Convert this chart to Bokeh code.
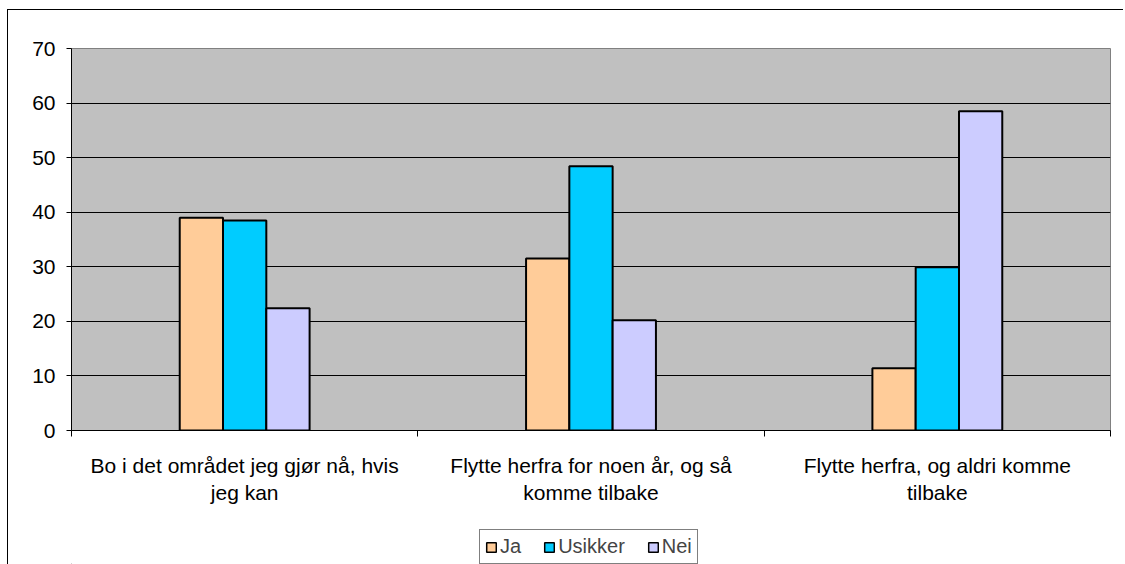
from bokeh.plotting import figure
from bokeh.models import (ColumnDataSource, FixedTicker, Range1d, Legend, LegendItem)
from bokeh.layouts import column
from bokeh.transform import dodge
from bokeh.embed import file_html
from bokeh.resources import INLINE

# ---- data ----
categories = ["Bo i det området jeg gjør nå, hvis\njeg kan",
              "Flytte herfra for noen år, og så\nkomme tilbake",
              "Flytte herfra, og aldri komme\ntilbake"]
ja = [39.0, 31.5, 11.4]
usikker = [38.5, 48.4, 29.9]
nei = [22.4, 20.2, 58.5]
series_names = ["Ja", "Usikker", "Nei"]
series_colors = ["#FFCC99", "#00CCFF", "#CCCCFF"]
y_ticks = [0, 10, 20, 30, 40, 50, 60, 70]

centers = [i + 0.5 for i in range(len(categories))]
src = ColumnDataSource(dict(x=centers, ja=ja, usikker=usikker, nei=nei))

FONT = "Liberation Sans"

p = figure(frame_width=1039, frame_height=382,
           min_border_left=63, min_border_right=13, min_border_top=38, min_border_bottom=80,
           x_range=Range1d(0, len(categories)), y_range=Range1d(0, 70),
           output_backend="svg", toolbar_location=None, tools="")

p.background_fill_color = "#C0C0C0"
p.border_fill_color = "white"
p.outline_line_color = "#808080"
p.outline_line_width = 1

p.xgrid.grid_line_color = None
p.ygrid.ticker = FixedTicker(ticks=y_ticks[1:-1])
p.ygrid.grid_line_color = "black"
p.ygrid.grid_line_width = 1

# y axis
p.yaxis.ticker = FixedTicker(ticks=y_ticks)
p.yaxis.axis_line_color = "black"
p.yaxis.major_tick_line_color = "black"
p.yaxis.major_tick_out = 5
p.yaxis.major_tick_in = 0
p.yaxis.minor_tick_line_color = None
p.yaxis.major_label_text_font = FONT
p.yaxis.major_label_text_font_size = "21px"
p.yaxis.major_label_text_color = "black"
p.yaxis.major_label_standoff = 11

# x axis
p.xaxis.ticker = FixedTicker(ticks=centers, minor_ticks=[0, 1, 2, 3])
p.xaxis.major_label_overrides = {c: lab for c, lab in zip(centers, categories)}
p.xaxis.axis_line_color = "black"
p.xaxis.major_tick_line_color = None
p.xaxis.major_tick_out = 0
p.xaxis.major_tick_in = 0
p.xaxis.minor_tick_line_color = "black"
p.xaxis.minor_tick_out = 6
p.xaxis.minor_tick_in = 0
p.xaxis.major_label_text_font = FONT
p.xaxis.major_label_text_font_size = "21px"
p.xaxis.major_label_text_color = "black"
p.xaxis.major_label_standoff = 17

bw = 0.125
for field, off, color in zip(["ja", "usikker", "nei"], [-bw, 0, bw], series_colors):
    p.vbar(x=dodge("x", off, range=p.x_range), top=field, width=bw, bottom=0,
           source=src, fill_color=color, line_color="black", line_width=2)

# ---- legend strip below the chart ----
pl = figure(width=1115, height=54, min_border=0,
            x_range=Range1d(0, 1), y_range=Range1d(0, 1),
            x_axis_location=None, y_axis_location=None,
            output_backend="svg", toolbar_location=None, tools="")
pl.grid.grid_line_color = None
pl.outline_line_color = None
pl.background_fill_color = "white"
pl.border_fill_color = "white"
leg_renderers = []
for color in series_colors:
    # legend-only swatch renderer, placed outside the visible range
    leg_renderers.append(pl.vbar(x=[-5], top=[0], width=0.1, fill_color=color,
                                 line_color="black", line_width=1.5))

legend = Legend(items=[LegendItem(label=n, renderers=[r]) for n, r in zip(series_names, leg_renderers)],
                orientation="horizontal", location=(408, 0),
                label_text_font=FONT, label_text_font_size="20px",
                glyph_width=12, glyph_height=12, label_standoff=3, spacing=22,
                padding=5, margin=0, border_line_color="black", border_line_width=1,
                background_fill_color="white", background_fill_alpha=1)
pl.add_layout(legend, "center")

layout = column(p, pl, spacing=0,
                styles={"margin-left": "7px", "margin-top": "9px",
                        "border-left": "1px solid black", "border-top": "1px solid black"})

open("out.html", "w").write(file_html(layout, INLINE))
